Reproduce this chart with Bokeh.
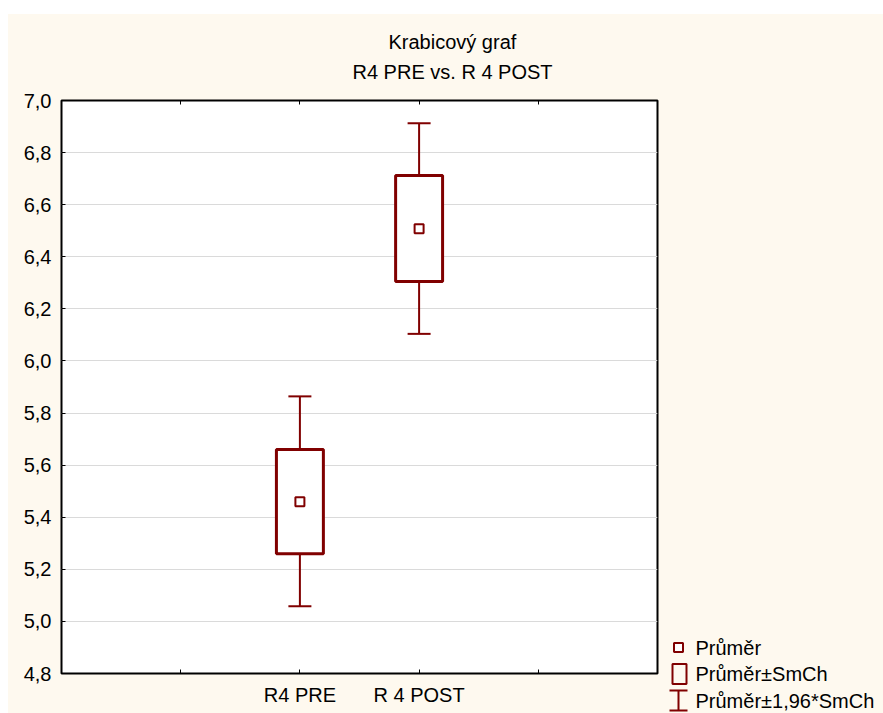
from bokeh.plotting import figure
from bokeh.models import (Range1d, FixedTicker, LinearAxis, Title, ColumnDataSource,
                          Whisker, TeeHead, CustomJSTickFormatter, CustomLabelingPolicy, Spacer)
from bokeh.layouts import row, column
from bokeh.embed import file_html
from bokeh.resources import INLINE
from bokeh.core.properties import value

# ---- data ----
categories = ["R4 PRE", "R 4 POST"]
means = [5.459, 6.508]
se_low = [5.260, 6.305]
se_high = [5.660, 6.712]
ci_low = [5.058, 6.104]
ci_high = [5.864, 6.913]
y_ticks = [4.8, 5.0, 5.2, 5.4, 5.6, 5.8, 6.0, 6.2, 6.4, 6.6, 6.8, 7.0]
x_ticks = [1, 2, 3, 4]
title_lines = ["Krabicový graf", "R4 PRE vs. R 4 POST"]
legend_labels = ["Průměr", "Průměr±SmCh", "Průměr±1,96*SmCh"]

DARK = "#800000"
CREAM = "#FEF9EF"
FONT = "Liberation Sans"
FS = "20px"

X0, X1 = 0, 5
Y0, Y1 = 4.8, 7.0
FW, FH = 596, 573            # frame size in px
BL, BR, BT, BB = 53, 11, 86, 40
H = BT + FH + BB             # 699
LW, LH = 215, 79             # legend panel size

xs = [i + 2 for i in range(len(categories))]
src = ColumnDataSource(dict(x=xs, mean=means, lo=se_low, hi=se_high,
                            clo=ci_low, chi=ci_high))

p = figure(width=BL + FW + BR, height=H,
           x_range=Range1d(X0, X1), y_range=Range1d(Y0, Y1),
           output_backend="svg", toolbar_location=None, title=None,
           min_border_left=BL, min_border_right=BR, min_border_top=BT, min_border_bottom=BB,
           background_fill_color="white", border_fill_color=CREAM,
           outline_line_color="black", outline_line_width=2)

hide = [i for i, t in enumerate(x_ticks) if t not in xs]
ax = p.xaxis[0]
ax.ticker = FixedTicker(ticks=x_ticks)
ax.major_label_overrides = {x: c for x, c in zip(xs, categories)}
ax.major_label_policy = CustomLabelingPolicy(
    args=dict(hide=hide),
    code="for (const i of hide) indices.unset(i); return indices")
ay = p.yaxis[0]
ay.ticker = FixedTicker(ticks=y_ticks)
ay.formatter = CustomJSTickFormatter(code="return tick.toFixed(1).replace('.', ',')")
for a in (ax, ay):
    a.axis_line_color = None
    a.major_tick_in = 4
    a.major_tick_out = 0
    a.major_tick_line_color = "black"
    a.minor_tick_line_color = None
    a.major_label_text_font = FONT
    a.major_label_text_font_size = FS
    a.major_label_text_color = "black"
ay.major_label_standoff = 10
ax.major_label_standoff = 10

top = LinearAxis(ticker=FixedTicker(ticks=x_ticks), axis_line_color=None,
                 major_tick_in=4, major_tick_out=0, minor_tick_line_color=None,
                 major_label_text_font_size="0px", major_tick_line_color="black",
                 major_label_policy=CustomLabelingPolicy(
                     code="for (const i of indices) indices.unset(i); return indices"))
p.add_layout(top, "above")

p.xgrid.visible = False
p.ygrid.grid_line_color = "#DADADA"
p.ygrid.grid_line_width = 1

# subtitle first (closest to the frame), then main title
p.add_layout(Title(text=title_lines[1], align="left", offset=291, standoff=36,
                   text_font=FONT, text_font_size=FS, text_font_style="normal",
                   text_color="black"), "above")
p.add_layout(Title(text=title_lines[0], align="left", offset=327, standoff=-24,
                   text_font=FONT, text_font_size=FS, text_font_style="normal",
                   text_color="black"), "above")

wh = Whisker(base="x", lower="clo", upper="chi", source=src, line_color=DARK,
             line_width=2, level="underlay",
             lower_head=TeeHead(size=23, line_color=DARK, line_width=2),
             upper_head=TeeHead(size=23, line_color=DARK, line_width=2))
p.add_layout(wh)
p.vbar(x="x", width=0.394, bottom="lo", top="hi", source=src, fill_color="white",
       line_color=DARK, line_width=3)
p.scatter(x="x", y="mean", source=src, marker="square", size=9, fill_color="white",
          line_color=DARK, line_width=2)

# ---- legend panel (pixel-like local coordinates, y downwards) ----
lg = figure(width=LW, height=LH, x_range=Range1d(0, LW), y_range=Range1d(LH, 0),
            output_backend="svg", toolbar_location=None, title=None,
            x_axis_type=None, y_axis_type=None,
            min_border=0, min_border_left=0, min_border_right=0,
            min_border_top=0, min_border_bottom=0,
            background_fill_color=CREAM, border_fill_color=CREAM, outline_line_color=None)
lg.grid.visible = False

row_y = [13 + 26.5 * i for i in range(len(legend_labels))]
kx = 10
lg.scatter(x=[kx], y=[row_y[0]], marker="square", size=9, fill_color="white",
           line_color=DARK, line_width=2)
lg.rect(x=[kx + 1], y=[row_y[1]], width=14, height=20, fill_alpha=0,
        line_color=DARK, line_width=2)
lg.segment(x0=[kx, kx - 9, kx - 9], y0=[row_y[2] - 10, row_y[2] - 10, row_y[2] + 10],
           x1=[kx, kx + 9, kx + 9], y1=[row_y[2] + 10, row_y[2] - 10, row_y[2] + 10],
           line_color=DARK, line_width=2)
lg.text(x=[kx + 17] * len(legend_labels), y=row_y, text=legend_labels,
        text_font=value(FONT), text_font_size=FS, text_baseline="middle",
        text_align="left", text_color="black")

filler = Spacer(width=LW, height=H - LH, styles={"background-color": CREAM})
layout = row(p, column(filler, lg, spacing=0), spacing=0,
             styles={"background-color": CREAM})
layout.margin = (14, 0, 0, 8)

open("out.html", "w").write(file_html(layout, INLINE))
